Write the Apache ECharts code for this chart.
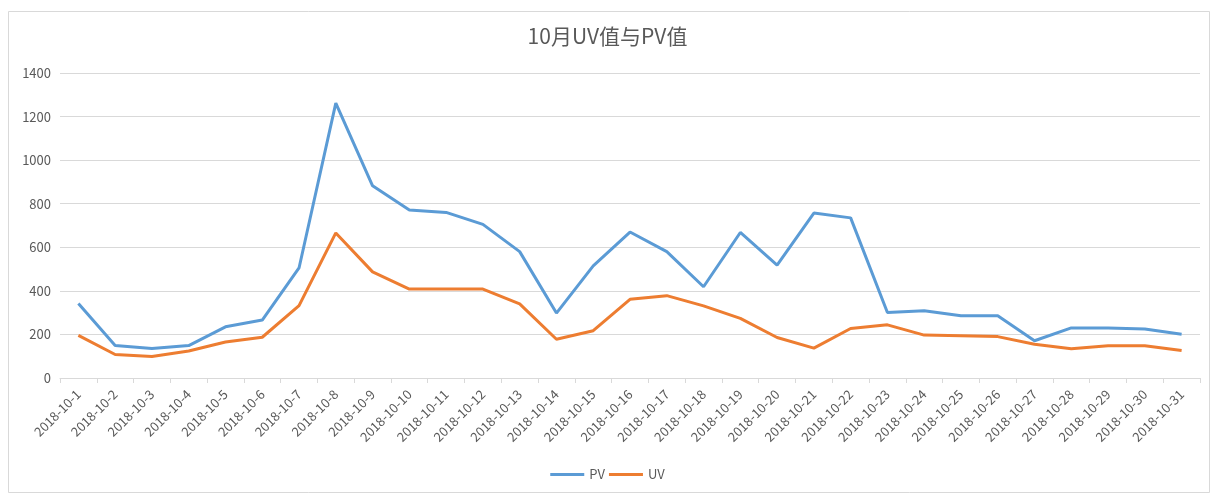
<!DOCTYPE html>
<html>
<head>
<meta charset="utf-8">
<script src="https://cdn.jsdelivr.net/npm/echarts@6/dist/echarts.min.js"></script>
<style>
html,body{margin:0;padding:0;background:#fff;}
#chart{width:1215px;height:496px;}
</style>
</head>
<body>
<div id="chart"></div>
<script>
const title = '10月UV值与PV值';
const categories = ['2018-10-1','2018-10-2','2018-10-3','2018-10-4','2018-10-5','2018-10-6','2018-10-7','2018-10-8','2018-10-9','2018-10-10','2018-10-11','2018-10-12','2018-10-13','2018-10-14','2018-10-15','2018-10-16','2018-10-17','2018-10-18','2018-10-19','2018-10-20','2018-10-21','2018-10-22','2018-10-23','2018-10-24','2018-10-25','2018-10-26','2018-10-27','2018-10-28','2018-10-29','2018-10-30','2018-10-31'];
const pvValues = [342,149,135,149,235,266,505,1262,882,771,760,705,580,298,515,670,580,419,668,518,757,735,301,309,286,286,171,230,230,225,201];
const uvValues = [196,108,99,124,165,187,332,666,487,408,408,408,340,178,217,361,378,331,274,186,137,227,244,197,194,190,155,134,148,148,126];
const seriesNames = ['PV','UV'];

const FONT = '"Noto Sans CJK SC", "Noto Sans", sans-serif';
const chart = echarts.init(document.getElementById('chart'), null, {renderer:'canvas'});
chart.setOption({
  backgroundColor:'#fff',
  animation:false,
  color:['#5B9BD5','#ED7D31'],
  textStyle:{fontFamily:FONT},
  title:{
    text:title, left:'center', top:21,
    textStyle:{fontSize:21, fontWeight:'normal', color:'#595959', fontFamily:FONT}
  },
  graphic:[{
    type:'rect', shape:{x:8.5,y:11.5,width:1201,height:481},
    style:{fill:'none', stroke:'#d9d9d9', lineWidth:1}, silent:true, z:-1
  }],
  legend:{
    bottom:10, left:'center',
    itemWidth:34, itemHeight:3, itemGap:4,
    icon:'rect',
    textStyle:{fontSize:13, color:'#595959', fontFamily:FONT},
    data:seriesNames
  },
  grid:{left:60, right:15, top:73, bottom:118, containLabel:false},
  xAxis:{
    type:'category', data:categories, boundaryGap:true,
    axisLine:{lineStyle:{color:'#d9d9d9', width:1}},
    axisTick:{show:true, length:5, lineStyle:{color:'#d9d9d9'}},
    axisLabel:{rotate:45, interval:0, fontSize:13, color:'#595959', margin:14, fontFamily:FONT}
  },
  yAxis:{
    type:'value', min:0, max:1400, interval:200,
    axisLine:{show:false}, axisTick:{show:false},
    splitLine:{lineStyle:{color:'#d9d9d9', width:1}},
    axisLabel:{fontSize:13, color:'#595959', margin:9, fontFamily:FONT, formatter:function(v){return String(v);}}
  },
  series:[
    {name:seriesNames[0], type:'line', data:pvValues, symbol:'none', lineStyle:{width:3}, z:3},
    {name:seriesNames[1], type:'line', data:uvValues, symbol:'none', lineStyle:{width:3}, z:2}
  ]
});
</script>
</body>
</html>
